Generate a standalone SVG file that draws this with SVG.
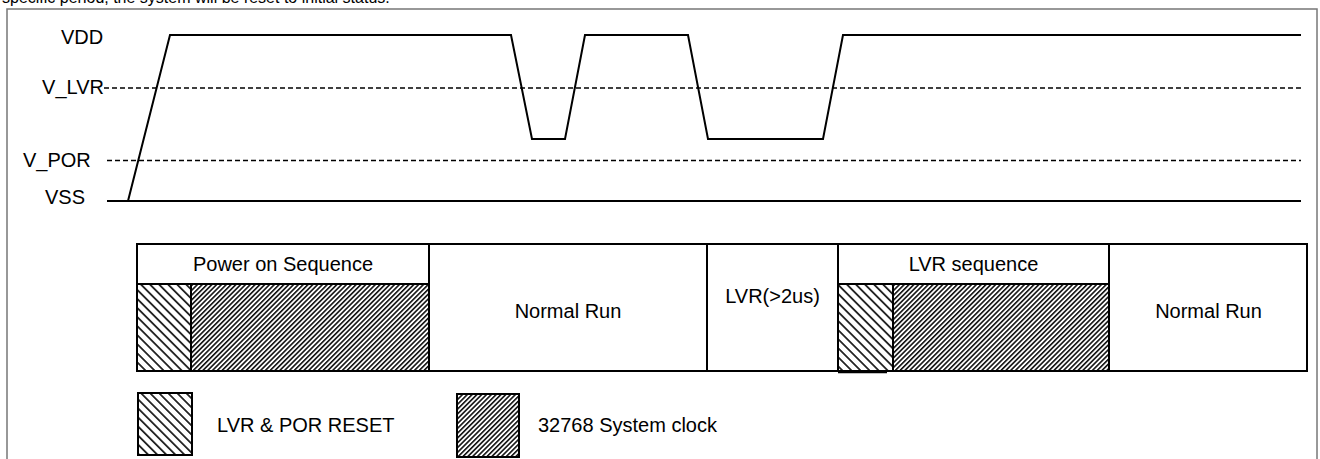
<svg xmlns="http://www.w3.org/2000/svg" width="1320" height="459" viewBox="0 0 1320 459">
  <style>
    text { font-family: "Liberation Sans", Arial, sans-serif; font-size: 20px; fill: #000; }
    .cap { font-size: 16px; }
    .box { fill: #fff; stroke: #000; stroke-width: 2; }
    .wave { fill: none; stroke: #000; stroke-width: 2; stroke-linejoin: miter; }
    .dash { fill: none; stroke: #000; stroke-width: 1.5; stroke-dasharray: 5 3; }
    .solid { fill: none; stroke: #000; stroke-width: 2; }
    .div { stroke: #000; stroke-width: 2; }
    .mid { text-anchor: middle; }
    .end { text-anchor: end; }
  </style>
  <defs>
    <pattern id="hatchReset" patternUnits="userSpaceOnUse" width="6.4" height="6.4" patternTransform="rotate(-45)">
      <rect width="6.4" height="6.4" fill="#fff"/>
      <rect x="0" y="0" width="1.8" height="6.4" fill="#222"/>
    </pattern>
    <pattern id="hatchClock" patternUnits="userSpaceOnUse" width="3.4" height="3.4" patternTransform="rotate(45)">
      <rect width="3.4" height="3.4" fill="#fff"/>
      <rect x="0" y="0" width="1.6" height="3.4" fill="#111"/>
    </pattern>
  </defs>

  <rect width="1320" height="459" fill="#fff"/>
  <text class="cap" x="2" y="3">specific period, the system will be reset to initial status.</text>
  <rect id="frame" x="7" y="9" width="1310" height="470" fill="none" stroke="#777" stroke-width="1.5"/>

  <g id="level-labels">
    <text x="61" y="44">VDD</text>
    <text class="end" x="104" y="94">V_LVR</text>
    <text x="23" y="167">V_POR</text>
    <text x="45" y="203.5">VSS</text>
  </g>

  <g id="connectors">
    <line class="dash" x1="104" y1="88" x2="1301" y2="88"/>
    <line class="dash" x1="107" y1="160.5" x2="1301" y2="160.5"/>
    <line class="solid" x1="107" y1="201" x2="1301" y2="201"/>
    <polyline class="wave" points="128,201 170,35 511,35 532,139 565,139 585,35 688,35 708,139 823,139 843,35 1301,35"/>
  </g>

  <g id="power-on-sequence">
    <rect class="box" x="137" y="244" width="292" height="127"/>
    <rect x="137" y="284" width="54" height="87" fill="url(#hatchReset)"/>
    <rect x="191" y="284" width="238" height="87" fill="url(#hatchClock)"/>
    <rect x="137" y="244" width="292" height="127" fill="none" stroke="#000" stroke-width="2"/>
    <line class="div" x1="137" y1="284" x2="429" y2="284"/>
    <line class="div" x1="191" y1="284" x2="191" y2="371"/>
    <text class="mid" x="283" y="271">Power on Sequence</text>
  </g>

  <g id="normal-run-1">
    <rect class="box" x="429" y="244" width="278" height="127"/>
    <text class="mid" x="568" y="318">Normal Run</text>
  </g>

  <g id="lvr">
    <rect class="box" x="707" y="244" width="131" height="127"/>
    <text class="mid" x="772.5" y="303">LVR(&gt;2us)</text>
  </g>

  <g id="lvr-sequence">
    <rect class="box" x="838" y="244" width="271" height="127"/>
    <rect x="838" y="284" width="55" height="87" fill="url(#hatchReset)"/>
    <rect x="893" y="284" width="216" height="87" fill="url(#hatchClock)"/>
    <rect x="838" y="244" width="271" height="127" fill="none" stroke="#000" stroke-width="2"/>
    <line class="div" x1="838" y1="284" x2="1109" y2="284"/>
    <line class="div" x1="893" y1="284" x2="893" y2="371"/>
    <line x1="838" y1="372" x2="887" y2="372" stroke="#000" stroke-width="2.5"/>
    <text class="mid" x="973.5" y="271">LVR sequence</text>
  </g>

  <g id="normal-run-2">
    <rect class="box" x="1109" y="244" width="198" height="127"/>
    <text class="mid" x="1208.5" y="318">Normal Run</text>
  </g>

  <g id="legend-reset">
    <rect x="138" y="393" width="54" height="62" fill="url(#hatchReset)" stroke="#000" stroke-width="2"/>
    <text x="217" y="432">LVR &amp; POR RESET</text>
  </g>

  <g id="legend-clock">
    <rect x="457" y="394" width="62" height="63" fill="url(#hatchClock)" stroke="#000" stroke-width="2"/>
    <text x="538" y="432">32768 System clock</text>
  </g>
</svg>
